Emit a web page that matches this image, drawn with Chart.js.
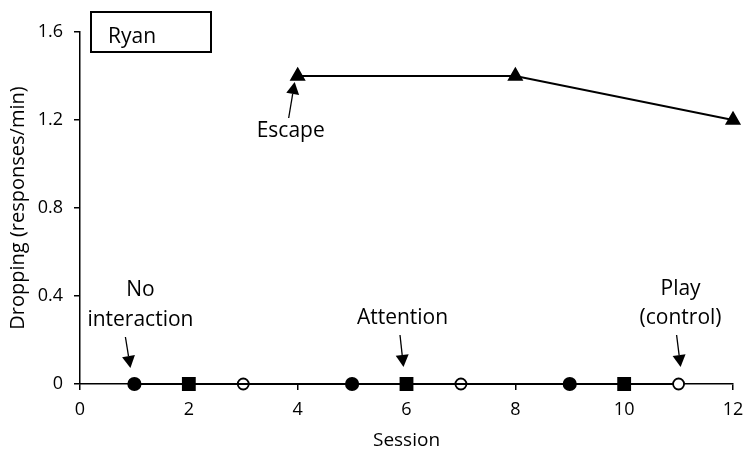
<!DOCTYPE html>
<html>
<head>
<meta charset="utf-8">
<title>Ryan – Dropping</title>
<script src="https://cdn.jsdelivr.net/npm/chart.js@4/dist/chart.umd.min.js"></script>
<style>
  html, body { margin: 0; padding: 0; background: #fff; }
  #wrap { width: 744px; height: 457px; position: relative; }
</style>
</head>
<body>
<div id="wrap"><canvas id="c" width="744" height="457"></canvas></div>
<script>
// Sessions and response rates for each condition
const noInteractionSessions = [1, 5, 9];
const noInteractionRates    = [0, 0, 0];
const attentionSessions     = [2, 6, 10];
const attentionRates        = [0, 0, 0];
const playSessions          = [3, 7, 11];
const playRates             = [0, 0, 0];
const escapeSessions        = [4, 8, 12];
const escapeRates           = [1.4, 1.4, 1.2];

// Axis ticks
const xTickValues = [0, 2, 4, 6, 8, 10, 12];
const yTickValues = [0, 0.4, 0.8, 1.2, 1.6];
const yTickLabels = ['0', '0.4', '0.8', '1.2', '1.6'];

const FONT = '"Open Sans", "Liberation Sans", sans-serif';

function pts(xs, ys) { return xs.map((x, i) => ({ x: x, y: ys[i] })); }

// Condition labels with arrows pointing to one session of each condition
const conditionLabels = [
  { lines: ['No', 'interaction'], at: { x: noInteractionSessions[0], y: noInteractionRates[0] },
    text: [[6, -94], [6, -64]], tail: [-9, -47], tip: [-4, -16] },
  { lines: ['Attention'], at: { x: attentionSessions[1], y: attentionRates[1] },
    text: [[-4, -66]], tail: [-6.5, -49], tip: [-3, -17] },
  { lines: ['Play', '(control)'], at: { x: playSessions[2], y: playRates[2] },
    text: [[2, -95], [2, -66]], tail: [-2, -49], tip: [2, -17] },
  { lines: ['Escape'], at: { x: escapeSessions[0], y: escapeRates[0] },
    text: [[-7, 55]], tail: [-9, 42], tip: [-3, 6] }
];

const annotate = {
  id: 'annotate',
  afterDatasetsDraw(chart) {
    const ctx = chart.ctx;
    const xs = chart.scales.x, ys = chart.scales.y;
    const area = chart.chartArea;
    ctx.save();
    ctx.fillStyle = '#000';
    ctx.strokeStyle = '#000';
    ctx.font = '21px ' + FONT;
    ctx.textAlign = 'center';
    ctx.textBaseline = 'middle';
    conditionLabels.forEach(a => {
      const px = xs.getPixelForValue(a.at.x);
      const py = ys.getPixelForValue(a.at.y);
      a.lines.forEach((t, i) => ctx.fillText(t, px + a.text[i][0], py + a.text[i][1]));
      const x0 = px + a.tail[0], y0 = py + a.tail[1];
      const x1 = px + a.tip[0],  y1 = py + a.tip[1];
      const ang = Math.atan2(y1 - y0, x1 - x0);
      const headLen = 12, headHalf = 6.5;
      const bx = x1 - Math.cos(ang) * headLen, by = y1 - Math.sin(ang) * headLen;
      ctx.lineWidth = 1.3;
      ctx.beginPath();
      ctx.moveTo(x0, y0);
      ctx.lineTo(bx, by);
      ctx.stroke();
      ctx.beginPath();
      ctx.moveTo(x1, y1);
      ctx.lineTo(bx - Math.sin(ang) * headHalf, by + Math.cos(ang) * headHalf);
      ctx.lineTo(bx + Math.sin(ang) * headHalf, by - Math.cos(ang) * headHalf);
      ctx.closePath();
      ctx.fill();
    });

    // Participant name box
    const bx0 = area.left + 11, by0 = area.top - 20, bw = 120, bh = 40;
    ctx.fillStyle = '#fff';
    ctx.fillRect(bx0, by0, bw, bh);
    ctx.lineWidth = 2;
    ctx.strokeRect(bx0, by0, bw, bh);
    ctx.fillStyle = '#000';
    ctx.textAlign = 'left';
    ctx.textBaseline = 'alphabetic';
    ctx.font = '21px ' + FONT;
    ctx.fillText('Ryan', bx0 + 17, by0 + 31);
    ctx.restore();
  }
};

function series(label, xs, ys, style, radius, fill) {
  return {
    label: label,
    data: pts(xs, ys),
    showLine: true,
    borderColor: '#000',
    borderWidth: 1.8,
    pointStyle: style,
    pointRadius: radius,
    pointHoverRadius: radius,
    pointBackgroundColor: fill,
    pointBorderColor: '#000',
    pointBorderWidth: 1.8,
    tension: 0,
    clip: false
  };
}

new Chart(document.getElementById('c'), {
  type: 'scatter',
  data: {
    datasets: [
      series('No interaction', noInteractionSessions, noInteractionRates, 'circle', 6.2, '#000'),
      series('Attention', attentionSessions, attentionRates, 'rect', 8.5, '#000'),
      series('Play (control)', playSessions, playRates, 'circle', 5.5, '#fff'),
      series('Escape', escapeSessions, escapeRates, 'triangle', 7.5, '#000')
    ]
  },
  options: {
    responsive: false,
    animation: false,
    events: [],
    layout: { padding: { left: 0, right: 11, top: 32, bottom: 4 } },
    plugins: { legend: { display: false }, tooltip: { enabled: false } },
    scales: {
      x: {
        type: 'linear',
        min: 0, max: 12,
        afterBuildTicks: s => { s.ticks = xTickValues.map(v => ({ value: v })); },
        afterFit: s => { s.height = 457 - 384 - 4; s.paddingLeft = 0; s.paddingRight = 0; },
        ticks: { color: '#000', font: { family: FONT, size: 18 }, padding: 9, maxRotation: 0 },
        grid: { drawOnChartArea: false, drawTicks: true, tickLength: 6, color: '#000', lineWidth: 1.5 },
        border: { display: true, color: '#000', width: 1.5 },
        title: { display: true, text: 'Session', color: '#000', font: { family: FONT, size: 19 }, padding: { top: 0, bottom: 1 } }
      },
      y: {
        type: 'linear',
        min: 0, max: 1.6,
        afterBuildTicks: s => { s.ticks = yTickValues.map(v => ({ value: v })); },
        afterFit: s => { s.width = 80; s.paddingTop = 0; s.paddingBottom = 0; },
        ticks: {
          color: '#000', font: { family: FONT, size: 18 }, padding: 11,
          callback: v => yTickLabels[yTickValues.indexOf(v)] ?? ''
        },
        grid: { drawOnChartArea: false, drawTicks: true, tickLength: 6, color: '#000', lineWidth: 1.5 },
        border: { display: true, color: '#000', width: 1.5 },
        title: { display: true, text: 'Dropping (responses/min)', color: '#000', font: { family: FONT, size: 20 }, padding: { top: 6, bottom: 0 } }
      }
    }
  },
  plugins: [annotate]
});
</script>
</body>
</html>
